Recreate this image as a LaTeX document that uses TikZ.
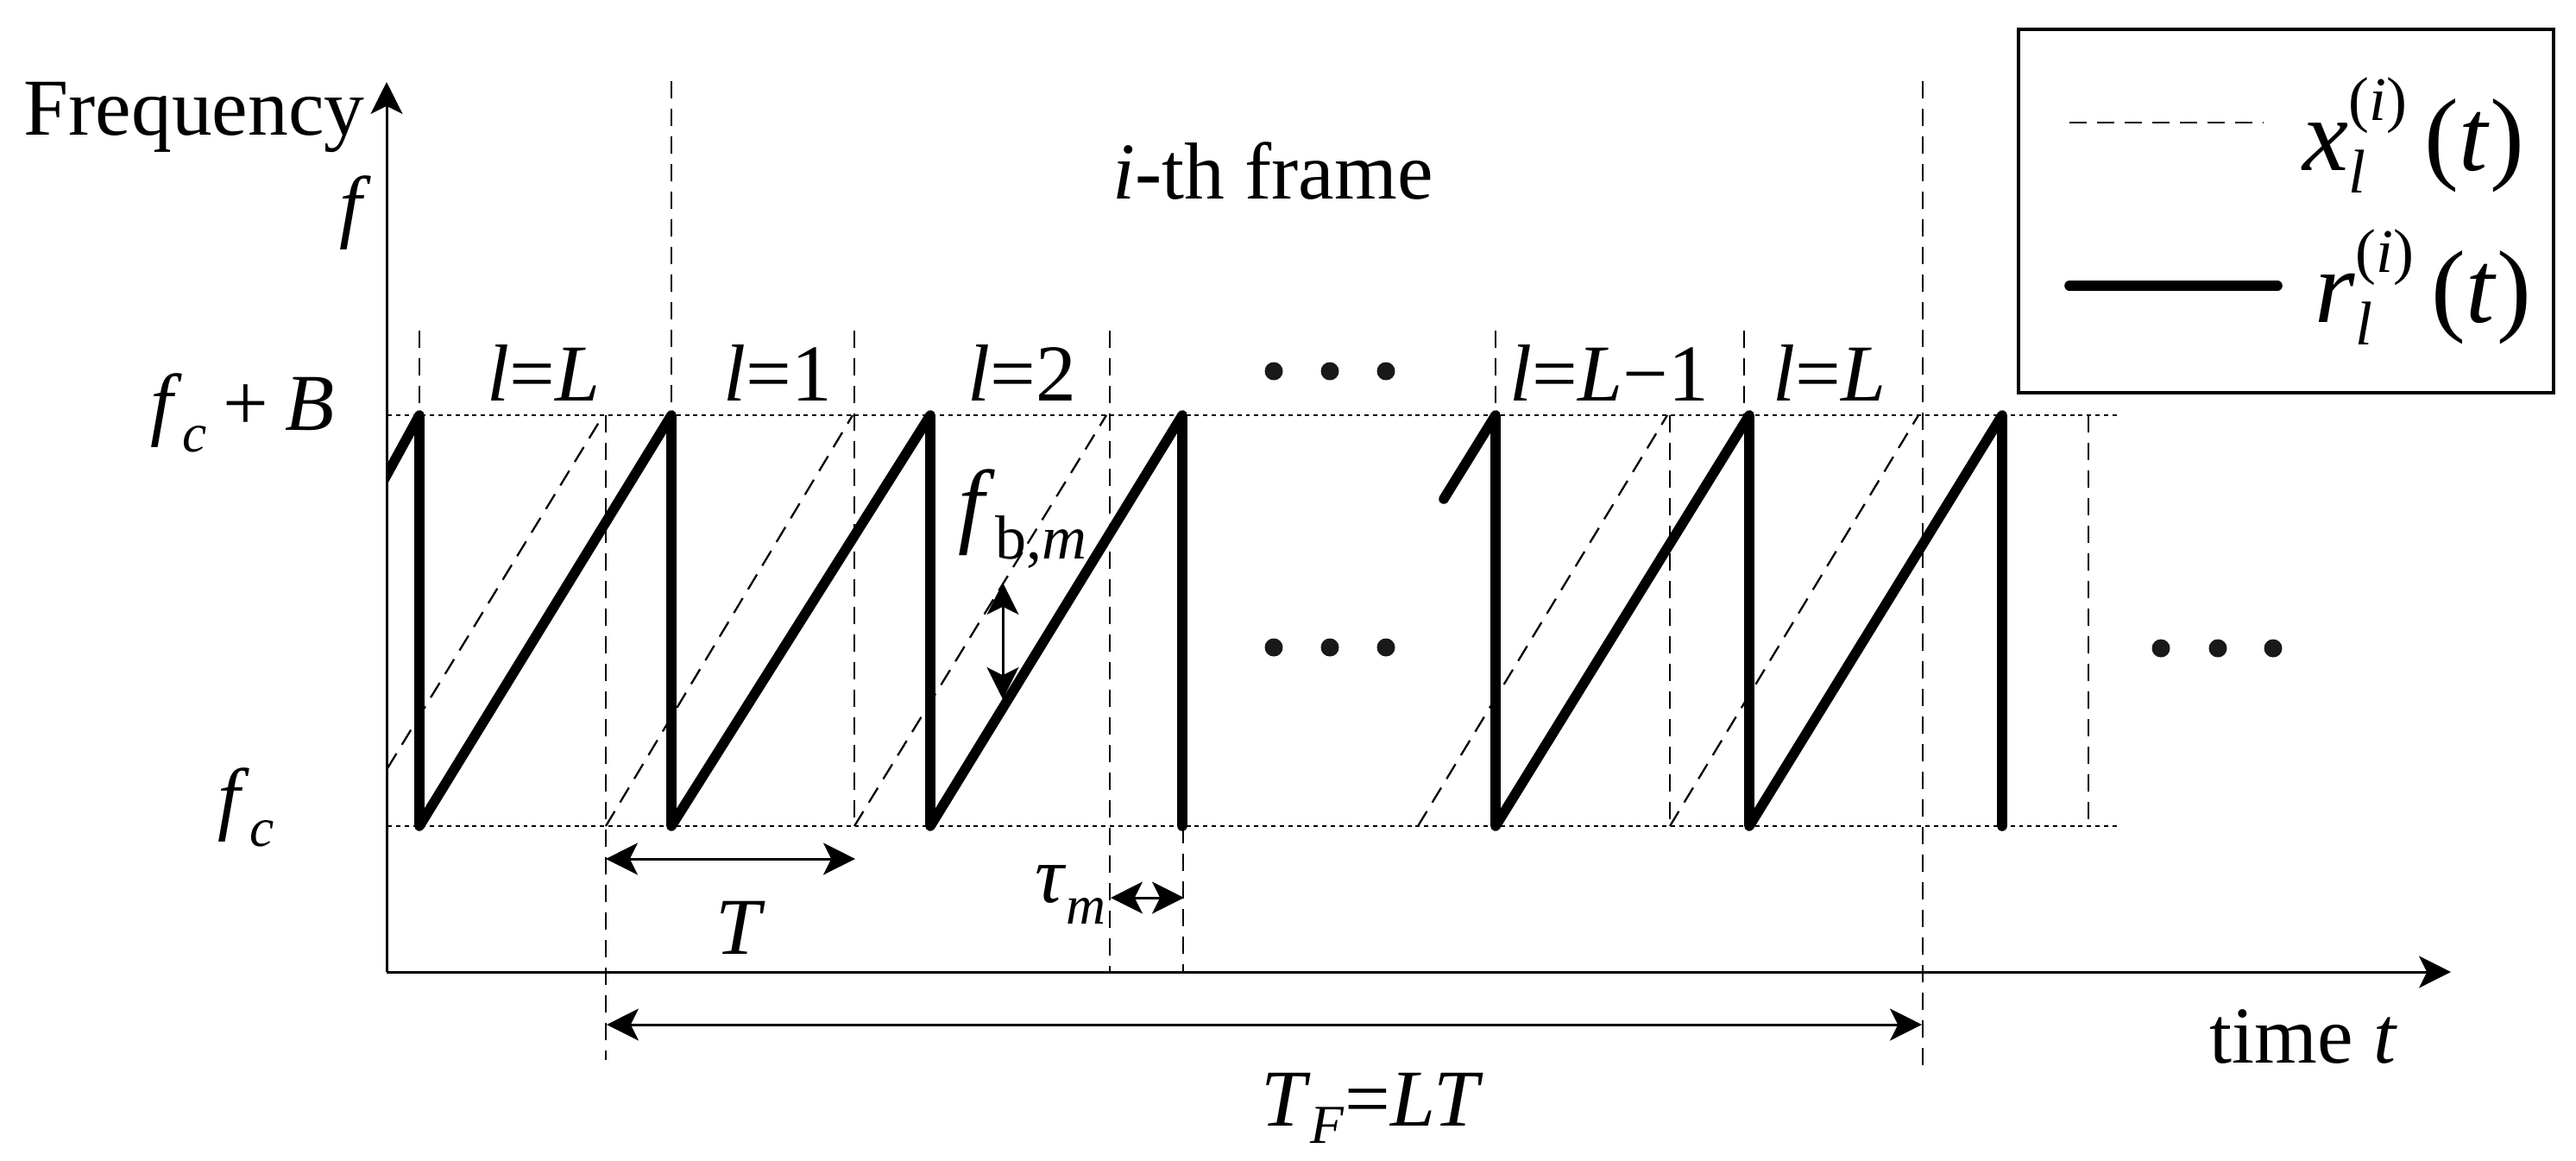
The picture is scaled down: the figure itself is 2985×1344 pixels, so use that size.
\documentclass[tikz,border=0pt]{standalone}
\usepackage{fontspec}
\setmainfont{Liberation Serif}
\usetikzlibrary{arrows.meta}
\newcommand{\dn}[2][0.27em]{\raisebox{-#1}{\scalebox{0.68}{#2}}}
\newcommand{\upr}[2][0.44em]{\raisebox{#1}{\scalebox{0.6}{#2}}}
\begin{document}
\begin{tikzpicture}[x=0.01cm,y=-0.01cm,
  thinl/.style={line width=0.85pt},
  dsh/.style={line width=0.65pt, dash pattern=on 5.7pt off 3.4pt},
  dtd/.style={line width=0.7pt, dash pattern=on 1.4pt off 1.4pt},
  chirp/.style={line width=3.3pt, line cap=round, line join=round},
  tip/.tip={Stealth[length=10.5pt,width=10.5pt,inset=2.6pt]},
  dim/.style={line width=0.85pt, tip-tip},
  lbl/.style={inner sep=0pt, font=\fontsize{26.6pt}{30pt}\selectfont},
  big/.style={inner sep=0pt, font=\fontsize{34pt}{38pt}\selectfont},
  dot/.style={fill=black!90}]
\useasboundingbox (0,0) rectangle (2985,1344);

% reference levels
\draw[dtd] (449,481) -- (2453,481);
\draw[dtd] (449,957) -- (2453,957);

% axes
\coordinate (O) at (448,1126);
\coordinate (ytip) at (448,95);
\coordinate (xtip) at (2840,1126);
\draw[thinl,-tip] (O) -- (ytip);
\draw[thinl,-tip] (O) -- (xtip);

% dashed vertical markers
\draw[dsh] (486,383) -- (486,481);
\draw[dsh] (778,94) -- (778,481);
\draw[dsh] (702,481) -- (702,1228);
\draw[dsh] (990,383) -- (990,957);
\draw[dsh] (1286,383) -- (1286,1126);
\draw[dsh] (1371,957) -- (1371,1126);
\draw[dsh] (1733,383) -- (1733,481);
\draw[dsh] (2021,383) -- (2021,481);
\draw[dsh] (1935,481) -- (1935,957);
\draw[dsh] (2228,94) -- (2228,1245);
\draw[dsh] (2420,481) -- (2420,957);

% transmitted chirps (dashed slants)
\draw[dsh] (449,890) -- (699,481);
\draw[dsh] (702,957) -- (988,481);
\draw[dsh] (990,957) -- (1282,481);
\draw[dsh] (1643,957) -- (1932,481);
\draw[dsh] (1935,957) -- (2223,481);

% received chirps (solid)
\begin{scope}
\clip (449,0) rectangle (2985,1344);
\draw[chirp] (440,565) -- (486,481) -- (486,957) -- (778,481) -- (778,957)
  -- (1078,481) -- (1078,957) -- (1370,481) -- (1370,957);
\end{scope}
\draw[chirp] (1673,578) -- (1733,481) -- (1733,957) -- (2027,481) -- (2027,957)
  -- (2320,481) -- (2320,957);

% dots
\foreach \x in {1476,1541,1606}{
  \fill[dot] (\x,430) circle[radius=0.105cm];
  \fill[dot] (\x,750) circle[radius=0.105cm];}
\foreach \x in {2504,2570,2634}{
  \fill[dot] (\x,751) circle[radius=0.105cm];}

% dimension arrows
\coordinate (Ta) at (702,995);  \coordinate (Tb) at (991,995);
\draw[dim] (Ta) -- (Tb);
\coordinate (ta) at (1287,1040); \coordinate (tb) at (1372,1040);
\draw[dim] (ta) -- (tb);
\coordinate (TFa) at (703,1187); \coordinate (TFb) at (2227,1187);
\draw[dim] (TFa) -- (TFb);
\coordinate (fba) at (1162,675); \coordinate (fbb) at (1162,810);
\draw[dim] (fba) -- (fbb);

% labels
\node[lbl, anchor=base west] (freq) at (27,156) {Frequency};
\node[lbl, anchor=base] (fax) at (412,269) {\textit{f}};
\node[lbl, anchor=base east] (fcb) at (388,498) {\textit{f}\dn{\textit{c}}\hspace{0.2em}+\hspace{0.2em}\textit{B}};
\node[lbl, anchor=base east] (fcl) at (318,955) {\textit{f}\dn{\textit{c}}};
\node[lbl, anchor=base] (frame) at (1475,230) {\textit{i}-th frame};
\node[lbl, anchor=base] (l1) at (630,464) {\textit{l}=\textit{L}};
\node[lbl, anchor=base] (l2) at (901,464) {\textit{l}=1};
\node[lbl, anchor=base] (l3) at (1184,464) {\textit{l}=2};
\node[lbl, anchor=base] (l4) at (1865,464) {\textit{l}=\textit{L}−1};
\node[lbl, anchor=base] (l5) at (2120,464) {\textit{l}=\textit{L}};
\node[lbl, anchor=base] (Tl) at (858,1105) {\textit{T}};
\node[lbl, anchor=base east] (taul) at (1282,1045) {\textit{τ}\dn{\textit{m}}};
\node[lbl, anchor=base] (TFl) at (1590,1304) {\textit{T}\dn[0.22em]{\textit{F}}=\textit{LT}};
\node[lbl, anchor=base west] (timel) at (2560,1231) {time \textit{t}};
\node[inner sep=0pt, anchor=base west, font=\fontsize{31pt}{34pt}\selectfont] (fbm) at (1110,620)
  {\textit{f}\raisebox{-0.25em}{\scalebox{0.66}{b,\textit{m}}}};

% legend
\node[draw, line width=1pt, inner sep=0pt, minimum width=6.2cm, minimum height=4.21cm, anchor=north west] (legend) at (2337,32) {};
\coordinate (lxa) at (2398,142); \coordinate (lxb) at (2623,142);
\draw[dsh] (lxa) -- (lxb);
\coordinate (lra) at (2398,331); \coordinate (lrb) at (2639,331);
\draw[chirp] (lra) -- (lrb);
\node[big, anchor=base west] (lgx) at (2668,197)
  {\textit{x}\rlap{\dn[0.22em]{\scalebox{0.88}{\textit{l}}}}\upr[0.48em]{(\textit{i})}\hspace{0.17em}(\textit{t})};
\node[big, anchor=base west] (lgr) at (2682,373)
  {\textit{r}\rlap{\dn[0.22em]{\scalebox{0.88}{\textit{l}}}}\upr[0.48em]{(\textit{i})}\hspace{0.17em}(\textit{t})};
\end{tikzpicture}
\end{document}
